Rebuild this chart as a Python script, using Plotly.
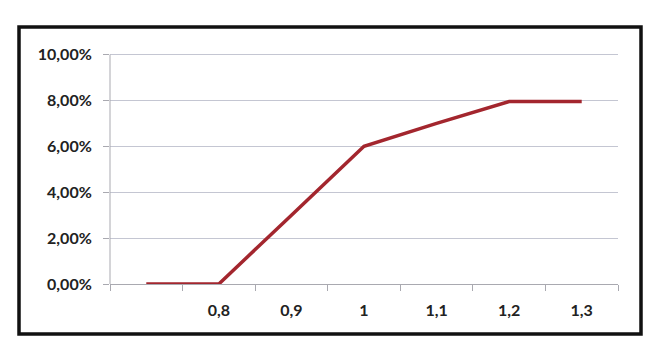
import plotly.graph_objects as go

categories = [" ", "0,8", "0,9", "1", "1,1", "1,2", "1,3"]
values = [0.0, 0.0, 0.030, 0.060, 0.070, 0.0795, 0.0795]

fig = go.Figure()
fig.add_trace(go.Scatter(
    x=categories, y=values, mode="lines",
    line=dict(color="#a3262e", width=3.5),
    hoverinfo="skip", showlegend=False,
))

font = dict(family="Lato, 'Open Sans', sans-serif", size=16, color="#222222", weight="bold")

fig.update_layout(
    width=657, height=359,
    margin=dict(l=110, r=39, t=50, b=75),
    paper_bgcolor="white", plot_bgcolor="white",
    separators=",.",
    font=font,
    xaxis=dict(
        type="category", categoryorder="array", categoryarray=categories,
        range=[-0.5, 6.5], showgrid=False, showline=True, linecolor="#a9a9b0", linewidth=1,
        ticks="outside", ticklen=6, tickcolor="#a9a9b0", tickson="boundaries",
        ticklabelstandoff=12, tickfont=font, zeroline=False,
    ),
    yaxis=dict(
        range=[0, 0.102], tickvals=[0, 0.02, 0.04, 0.06, 0.08, 0.10], tickformat=".2%",
        showgrid=True, gridcolor="#c4c6d2", gridwidth=1,
        showline=False,
        ticks="outside", ticklen=6, tickcolor="#a9a9b0",
        ticklabelstandoff=8, tickfont=font, zeroline=False,
    ),
    shapes=[
        dict(
            type="line", xref="paper", yref="y",
            x0=0, x1=0, y0=0, y1=0.10,
            line=dict(color="#a9a9b0", width=1),
        ),
        dict(
            type="rect", xref="paper", yref="paper",
            x0=(19 - 110) / 508, x1=(641 - 110) / 508,
            y0=(284 - 334) / 234, y1=(284 - 27) / 234,
            line=dict(color="#111111", width=3.5), fillcolor="rgba(0,0,0,0)",
        ),
    ],
)

fig.write_html("out.html")
